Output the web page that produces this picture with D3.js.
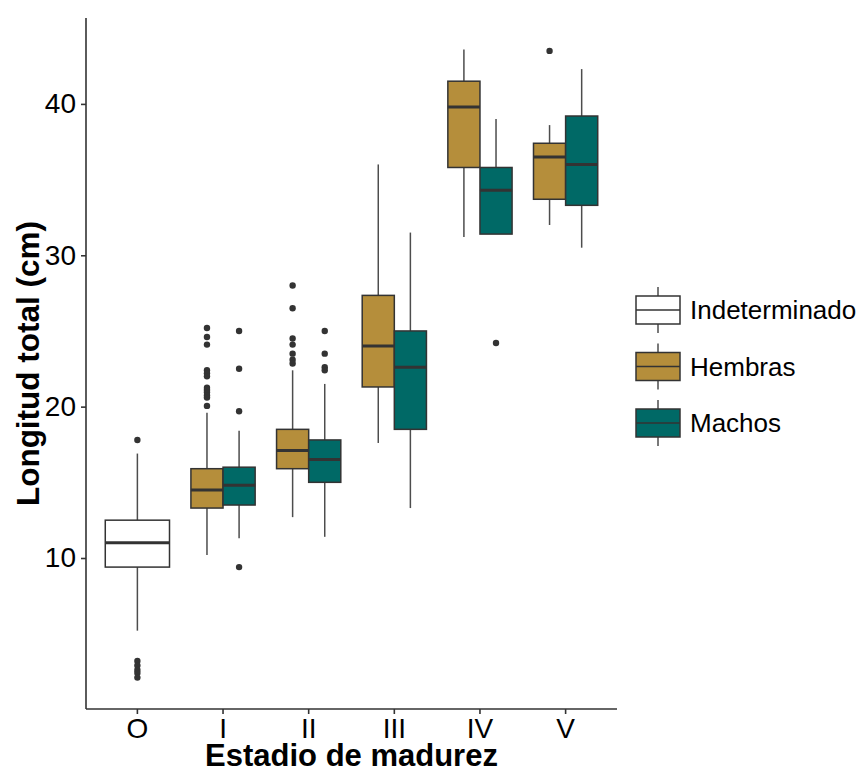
<!DOCTYPE html>
<html lang="en">
<head>
<meta charset="UTF-8">
<title>Longitud total por estadio de madurez</title>
<script src="https://cdnjs.cloudflare.com/ajax/libs/d3/7.8.5/d3.min.js"></script>
<style>
    body { margin: 0; background: #fff; }
    svg { display: block; font-family: "Liberation Sans", Arial, sans-serif; }
</style>
</head>
<body>
<svg id="chart" width="859" height="775"></svg>
<script>
    // Categories
    const stages = ["O", "I", "II", "III", "IV", "V"];
    const groups = ["Indeterminado", "Hembras", "Machos"];
    const groupColors = ["#ffffff", "#b58e3b", "#006966"];

    // One entry per box
    const boxStage  = ["O", "I", "I", "II", "II", "III", "III", "IV", "IV", "V", "V"];
    const boxGroup  = ["Indeterminado", "Hembras", "Machos", "Hembras", "Machos",
                       "Hembras", "Machos", "Hembras", "Machos", "Hembras", "Machos"];
    const whiskLow  = [5.2, 10.2, 11.3, 12.7, 11.4, 17.6, 13.3, 31.2, 31.4, 32.0, 30.5];
    const q1        = [9.4, 13.3, 13.5, 15.9, 15.0, 21.3, 18.5, 35.8, 31.4, 33.7, 33.3];
    const medians   = [11.0, 14.5, 14.8, 17.1, 16.5, 24.0, 22.6, 39.8, 34.3, 36.5, 36.0];
    const q3        = [12.5, 15.9, 16.0, 18.5, 17.8, 27.35, 25.0, 41.5, 35.8, 37.4, 39.2];
    const whiskHigh = [16.9, 19.6, 18.4, 22.4, 21.5, 36.0, 31.5, 43.6, 39.0, 38.6, 42.3];
    const outliers  = [
        [17.8, 3.2, 2.9, 2.6, 2.4, 2.1],
        [25.2, 24.6, 24.1, 22.4, 22.2, 22.0, 21.25, 21.1, 20.95, 20.75, 20.6, 20.05],
        [25.0, 22.5, 19.7, 9.4],
        [28.0, 26.5, 24.5, 24.1, 23.5, 23.1, 22.85],
        [25.0, 23.5, 22.6, 22.4],
        [],
        [],
        [],
        [24.2],
        [43.5],
        []
    ];
    const yTicks = [10, 20, 30, 40];

    const boxes = boxStage.map((s, i) => ({
        stage: s, group: boxGroup[i], lo: whiskLow[i], q1: q1[i], med: medians[i],
        q3: q3[i], hi: whiskHigh[i], out: outliers[i]
    }));

    const svg = d3.select("#chart");
    const plot = { left: 86, right: 617, top: 18, bottom: 709 };

    const x = d3.scaleBand()
        .domain(stages)
        .range([plot.left, plot.right])
        .paddingInner(0)
        .paddingOuter(0.1);

    const allVals = boxes.flatMap(b => [b.lo, b.hi, ...b.out]);
    const [vMin, vMax] = d3.extent(allVals);
    const pad = (vMax - vMin) * 0.05;
    const y = d3.scaleLinear()
        .domain([vMin - pad, vMax + pad])
        .range([plot.bottom, plot.top]);

    const color = d3.scaleOrdinal().domain(groups).range(groupColors);
    const dodgeWidth = x.bandwidth() * 0.75;

    // x position of each box, dodged inside its stage
    function boxX(b) {
        const inStage = boxes.filter(o => o.stage === b.stage).map(o => o.group);
        const sub = d3.scaleBand().domain(inStage).range([0, dodgeWidth]);
        const left = x(b.stage) + (x.bandwidth() - dodgeWidth) / 2 + sub(b.group);
        return { left: left, width: sub.bandwidth(), mid: left + sub.bandwidth() / 2 };
    }

    const boxG = svg.append("g").selectAll("g")
        .data(boxes)
        .enter()
        .append("g");

    // whiskers
    boxG.append("line")
        .attr("x1", d => boxX(d).mid).attr("x2", d => boxX(d).mid)
        .attr("y1", d => y(d.hi)).attr("y2", d => y(d.q3))
        .attr("stroke", "#4d4d4d").attr("stroke-width", 1.5);
    boxG.append("line")
        .attr("x1", d => boxX(d).mid).attr("x2", d => boxX(d).mid)
        .attr("y1", d => y(d.q1)).attr("y2", d => y(d.lo))
        .attr("stroke", "#4d4d4d").attr("stroke-width", 1.5);

    // boxes
    boxG.append("rect")
        .attr("x", d => boxX(d).left)
        .attr("width", d => boxX(d).width)
        .attr("y", d => y(d.q3))
        .attr("height", d => y(d.q1) - y(d.q3))
        .attr("fill", d => color(d.group))
        .attr("stroke", "#333333")
        .attr("stroke-width", 1.5);

    // medians
    boxG.append("line")
        .attr("x1", d => boxX(d).left).attr("x2", d => boxX(d).left + boxX(d).width)
        .attr("y1", d => y(d.med)).attr("y2", d => y(d.med))
        .attr("stroke", "#333333").attr("stroke-width", 3);

    // outliers
    boxG.selectAll("circle")
        .data(d => d.out.map(v => ({ v: v, cx: boxX(d).mid })))
        .enter()
        .append("circle")
        .attr("cx", d => d.cx)
        .attr("cy", d => y(d.v))
        .attr("r", 3.2)
        .attr("fill", "#333333");

    // axes
    const xAxis = svg.append("g")
        .attr("transform", `translate(0,${plot.bottom})`)
        .call(d3.axisBottom(x).tickSizeOuter(0).tickSize(5).tickPadding(4));
    const yAxis = svg.append("g")
        .attr("transform", `translate(${plot.left},0)`)
        .call(d3.axisLeft(y).tickValues(yTicks).tickSizeOuter(0).tickSize(5).tickPadding(5));

    [xAxis, yAxis].forEach(ax => {
        ax.select(".domain").attr("stroke", "#333").attr("stroke-width", 1.6);
        ax.selectAll(".tick line").attr("stroke", "#333").attr("stroke-width", 1.6);
        ax.selectAll(".tick text")
            .attr("fill", "#000")
            .style("font-size", "28px")
            .style("font-family", "'Liberation Sans', Arial, sans-serif");
    });
    yAxis.select(".domain").attr("d", `M0,${plot.top}V${plot.bottom}`);
    xAxis.select(".domain").attr("d", `M${plot.left},0H${plot.right}`);

    // axis titles
    svg.append("text")
        .attr("x", (plot.left + plot.right) / 2)
        .attr("y", 766)
        .attr("text-anchor", "middle")
        .style("font-size", "31px")
        .style("font-weight", "bold")
        .text("Estadio de madurez");

    svg.append("text")
        .attr("transform", `translate(39,${(plot.top + plot.bottom) / 2}) rotate(-90)`)
        .attr("text-anchor", "middle")
        .style("font-size", "31.5px")
        .style("font-weight", "bold")
        .text("Longitud total (cm)");

    // legend
    const legend = svg.append("g").attr("transform", "translate(636,287)");
    const key = legend.selectAll("g")
        .data(groups)
        .enter()
        .append("g")
        .attr("transform", (d, i) => `translate(0,${i * 56.5})`);

    key.append("line")
        .attr("x1", 22).attr("x2", 22).attr("y1", 0).attr("y2", 46)
        .attr("stroke", "#4d4d4d").attr("stroke-width", 1.5);
    key.append("rect")
        .attr("x", 0).attr("y", 9).attr("width", 44).attr("height", 28)
        .attr("fill", d => color(d))
        .attr("stroke", "#333333").attr("stroke-width", 1.5);
    key.append("line")
        .attr("x1", 0).attr("x2", 44).attr("y1", 23).attr("y2", 23)
        .attr("stroke", "#333333").attr("stroke-width", 1.5);
    key.append("text")
        .attr("x", 54)
        .attr("y", 23)
        .attr("dy", "0.35em")
        .style("font-size", "26px")
        .text(d => d);
</script>
</body>
</html>
